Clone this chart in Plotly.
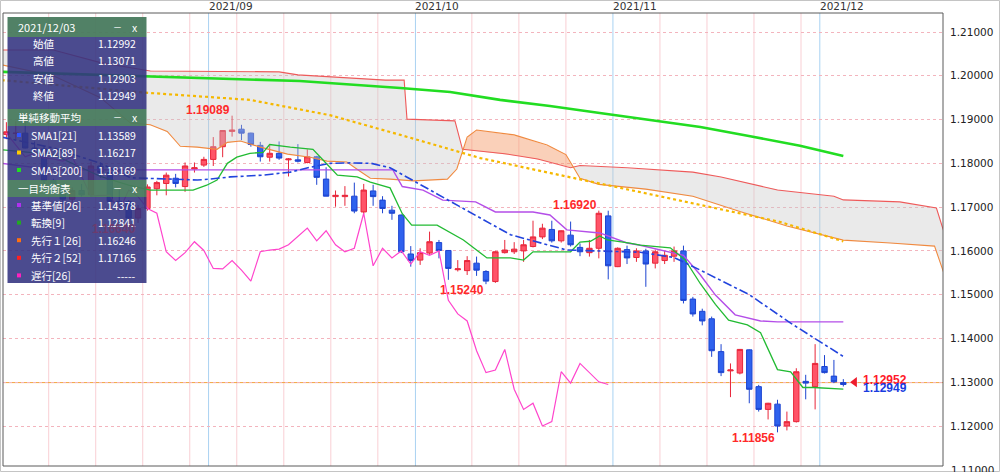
import numpy as np
import pandas as pd
import plotly.graph_objects as go

# ---------------- data ----------------
dates = [d.strftime("%Y/%m/%d") for d in pd.bdate_range("2021-08-02", "2021-12-03")]

opens = [1.1866,1.1868,1.1869,1.1835,1.1833,1.1761,1.1738,1.1718,1.1738,1.1728,
         1.1794,1.1779,1.1713,1.1713,1.1675,1.1697,1.1742,1.1754,1.1766,1.1747,
         1.1787,1.1796,1.1809,1.1838,1.1873,1.1878,1.1869,1.1841,1.1814,1.1823,
         1.1808,1.1808,1.1802,1.1815,1.1764,1.1724,1.1724,1.1725,1.1689,1.1737,
         1.1716,1.1693,1.1682,1.1593,1.1579,1.1595,1.1619,1.1601,1.1557,1.1555,
         1.1572,1.1553,1.1530,1.1596,1.1598,1.1600,1.1610,1.1632,1.1649,1.1623,
         1.1636,1.1608,1.1596,1.1606,1.1680,1.1564,1.1603,1.1585,1.1600,1.1572,
         1.1578,1.1588,1.1600,1.1490,1.1462,1.1445,1.1370,1.1326,1.1321,1.1374,
         1.1290,1.1238,1.1250,1.1200,1.1210,1.1302,1.1290,1.1336,1.1314,1.12992]
highs = [1.1894,1.1896,1.1900,1.1850,1.1839,1.1765,1.1748,1.1745,1.1753,1.1804,
         1.1802,1.1782,1.1741,1.1716,1.1705,1.1752,1.1760,1.1779,1.1776,1.1802,
         1.1802,1.1815,1.1860,1.1876,1.19089,1.1888,1.1870,1.1849,1.1840,1.1850,
         1.1812,1.1844,1.1832,1.1817,1.1791,1.1738,1.1748,1.1756,1.1753,1.1751,
         1.1725,1.1703,1.1683,1.1611,1.1606,1.1644,1.1625,1.1602,1.1579,1.1588,
         1.1587,1.1556,1.1600,1.1625,1.1620,1.1625,1.1669,1.1662,1.1669,1.1647,
         1.1667,1.1617,1.1625,1.1692,1.16918,1.1608,1.1612,1.1606,1.1605,1.1603,
         1.1600,1.1610,1.1612,1.1495,1.1468,1.1450,1.1387,1.1343,1.1376,1.1375,
         1.1294,1.1253,1.1260,1.1233,1.1332,1.1317,1.1387,1.1362,1.1351,1.13071]
lows = [1.1855,1.1854,1.1834,1.1822,1.1754,1.1735,1.1706,1.1706,1.1724,1.1724,
        1.1767,1.1712,1.1693,1.1666,1.1664,1.1692,1.1727,1.1727,1.1745,1.1735,
        1.1779,1.1792,1.1794,1.1814,1.1861,1.1853,1.1838,1.1804,1.1804,1.1808,
        1.1770,1.1802,1.1800,1.1751,1.1725,1.1701,1.1703,1.1686,1.1684,1.1703,
        1.1686,1.1671,1.1595,1.1564,1.1568,1.1591,1.1583,1.1534,1.1553,1.1545,
        1.1543,1.1524,1.1527,1.1594,1.1593,1.1575,1.1608,1.1627,1.1619,1.1619,
        1.1610,1.1588,1.1587,1.1583,1.1535,1.1563,1.1570,1.1575,1.1518,1.1560,
        1.1570,1.1575,1.1480,1.1450,1.1430,1.1358,1.1314,1.1266,1.1318,1.1252,
        1.1233,1.1215,1.11856,1.1190,1.1208,1.1261,1.1238,1.1320,1.1298,1.12903]
closes = [1.1872,1.1869,1.1835,1.1833,1.1761,1.1738,1.1718,1.1738,1.1728,1.1794,
          1.1779,1.1713,1.1713,1.1675,1.1697,1.1746,1.1756,1.1773,1.1754,1.1794,
          1.1790,1.1809,1.1838,1.1875,1.1876,1.1869,1.1843,1.1815,1.1823,1.1812,
          1.1810,1.1805,1.1815,1.1768,1.1725,1.1727,1.1727,1.1691,1.1739,1.1724,
          1.1697,1.1686,1.1598,1.1578,1.1596,1.1621,1.1601,1.1560,1.1559,1.1578,
          1.1556,1.1531,1.1598,1.1602,1.1604,1.1614,1.1632,1.1652,1.1623,1.1646,
          1.1614,1.1598,1.1606,1.1686,1.1566,1.1606,1.1584,1.1600,1.1570,1.1598,
          1.1590,1.1600,1.1487,1.1456,1.1440,1.1372,1.1322,1.1328,1.1375,1.1284,
          1.1238,1.1252,1.1200,1.1210,1.1324,1.1298,1.1343,1.1322,1.1301,1.12949]

# indicator lines (x in bar units)
sma1_x = [-0.5,5,10,13.2,20.3,21.7,23.8,27.3,30.2,32.3,34.4,36.6,38.8,40.8,46.9,53.6,59.6,67.4,71,73.8,79,83.4,89]
sma1_y = [1.1860,1.1835,1.1800,1.1767,1.1762,1.1764,1.1769,1.1773,1.1780,1.1791,1.1800,1.1801,1.1800,1.1790,
          1.1717,1.1637,1.1602,1.1597,1.1585,1.1556,1.1500,1.1435,1.13589]
sma2_x = [-0.5,15.1,25.9,34.4,41.9,50.4,58.9,67.4,73.8,82.3,89]
sma2_y = [1.1990,1.1961,1.1945,1.1910,1.1865,1.1812,1.1773,1.1735,1.1705,1.1666,1.16217]
sma3_x = [-0.5,15,31.2,41.9,47.2,52.5,57.8,63.1,68.5,73.8,79.1,84.4,89]
sma3_y = [1.2009,1.1999,1.1988,1.1972,1.1963,1.1945,1.1931,1.1915,1.1899,1.1883,1.1862,1.1840,1.18169]
tenkan_x = [-0.5,5,8,10,13,15.3,19.85,21.3,22.4,23.5,24.5,25.9,27.3,28,30.2,32.6,34.1,35.2,37.3,38.7,
            40.8,42.1,43.1,45.8,48.6,51.1,53.6,55,56,60,61,62.1,63.1,63.9,66.3,67.4,70.6,72.2,73.8,75.4,
            76.8,78.8,80.2,82,83.4,84.7,85.8,89]
tenkan_y = [1.1831,1.1820,1.1790,1.1770,1.1750,1.1739,1.1739,1.1750,1.1762,1.1800,1.1814,1.1823,1.1825,1.1843,
            1.1837,1.1832,1.1798,1.1773,1.1769,1.1757,1.1744,1.1685,1.1659,1.1659,1.1625,1.1584,1.1584,1.1579,
            1.1598,1.1598,1.1620,1.1622,1.1634,1.1625,1.1618,1.1613,1.1607,1.1579,1.1525,1.1478,1.1442,1.1431,
            1.1413,1.1329,1.1324,1.1288,1.1288,1.12841]
kijun_x = [-0.5,5,41.1,42.1,44.3,46.4,49.9,52,56,57.8,59.6,63.1,66,67.4,72,73.8,75.4,77.5,80.2,82,89]
kijun_y = [1.1800,1.1785,1.1785,1.1747,1.1739,1.1716,1.1712,1.1689,1.1689,1.1682,1.1648,1.1641,1.1618,1.1613,
           1.1590,1.1545,1.1499,1.1454,1.1440,1.14378,1.14378]
span1_x = [-0.5,5,10,13.2,15.3,17.1,18.5,20.3,22.4,23.5,24.9,27,29.9,32.3,34.1,36.2,37.6,38.7,40.8,43.3,
           46.9,47.9,49,50,54,57.5,59.5,61,63,68,73,78,83,89,94,98.7,99.6,100.5]
span1_y = [1.2025,1.2000,1.1950,1.1892,1.1888,1.1873,1.1839,1.1837,1.1832,1.1848,1.1851,1.1837,1.1821,1.1814,
           1.1805,1.1803,1.1782,1.1766,1.1764,1.1760,1.1764,1.1787,1.1860,1.1876,1.1865,1.1842,1.1820,1.1766,
           1.1752,1.1741,1.1725,1.1690,1.1657,1.16246,1.1618,1.1611,1.1555,1.1500]
span2_x = [-0.5,5,10,15.3,29,31,40.3,42.3,42.6,47.7,48.5,53,56.5,60,61,66,73,76,82,88,89,95,98.9,99.6,100.5]
span2_y = [1.2059,1.2059,1.2030,1.2011,1.2009,1.2002,1.1990,1.1990,1.1901,1.1897,1.1832,1.1822,1.1810,1.1790,
           1.1795,1.1790,1.1780,1.1769,1.1739,1.1725,1.17165,1.1712,1.1698,1.1650,1.1600]
chikou_shift = 25

y_ticks = [1.12, 1.13, 1.14, 1.15, 1.16, 1.17, 1.18, 1.19, 1.20, 1.21]
last_open, last_high, last_low, last_close = 1.12992, 1.13071, 1.12903, 1.12949
ask_price = 1.12952

panel_header = "2021/12/03"
ohlc_rows = [("始値", "1.12992"), ("高値", "1.13071"), ("安値", "1.12903"), ("終値", "1.12949")]
sma_rows = [("SMA1[21]", "1.13589", "#3355ff"), ("SMA2[89]", "1.16217", "#ffcc00"), ("SMA3[200]", "1.18169", "#22dd22")]
ichi_rows = [("基準値[26]", "1.14378", "#b030f0"), ("転換[9]", "1.12841", "#22aa22"),
             ("先行１[26]", "1.16246", "#ff7010"), ("先行２[52]", "1.17165", "#ff2020"),
             ("遅行[26]", "-----", "#ff20c0")]
peak_labels = [(24, 1.19089, "high"), (63, 1.16920, "high"), (51, 1.15240, "low"), (82, 1.11856, "low")]
hidden_label = (14, 1.16640)

# ---------------- figure ----------------
n = len(opens)
xs = list(range(n))
W, H = 1000, 472
L_, R_, T_, B_ = 3, 57, 13, 6
PW, PH = W - L_ - R_, H - T_ - B_

def px(x):
    return (x - L_) / PW

def py(y):
    return (H - B_ - y) / PH

fig = go.Figure()

# cloud fills
grid = np.linspace(-0.5, 100.5, 1011)
s1 = np.interp(grid, span1_x, span1_y)
s2 = np.interp(grid, span2_x, span2_y)
top = np.maximum(s1, s2)
fig.add_trace(go.Scatter(x=grid, y=s1, mode="lines", line=dict(width=0), hoverinfo="skip", showlegend=False))
fig.add_trace(go.Scatter(x=grid, y=top, mode="lines", line=dict(width=0), fill="tonexty",
                         fillcolor="rgba(200,200,200,0.38)", hoverinfo="skip", showlegend=False))
fig.add_trace(go.Scatter(x=grid, y=s2, mode="lines", line=dict(width=0), hoverinfo="skip", showlegend=False))
fig.add_trace(go.Scatter(x=grid, y=top, mode="lines", line=dict(width=0), fill="tonexty",
                         fillcolor="rgba(245,150,100,0.45)", hoverinfo="skip", showlegend=False))

def line(x, y, color, width=1.2, dash="solid"):
    fig.add_trace(go.Scatter(x=x, y=y, mode="lines", line=dict(color=color, width=width, dash=dash),
                             hoverinfo="skip", showlegend=False))

line(span2_x, span2_y, "#ee5a5a", 1.1)
line(span1_x, span1_y, "#f08a40", 1.1)
line(sma3_x, sma3_y, "#22dd22", 2.6)
line(sma2_x, sma2_y, "#f5b800", 2.2, "dot")
line(kijun_x, kijun_y, "#b44ee8", 1.4)
line(tenkan_x, tenkan_y, "#22bb33", 1.3)
line(sma1_x, sma1_y, "#2244dd", 1.6, "dashdot")
chik_x = [i - chikou_shift for i in range(chikou_shift, n)]
chik_y = closes[chikou_shift:]
line(chik_x, chik_y, "#ff44cc", 1.2)

fig.add_trace(go.Candlestick(
    x=xs, open=opens, high=highs, low=lows, close=closes,
    increasing=dict(line=dict(color="#e8263a", width=1), fillcolor="#ff5468"),
    decreasing=dict(line=dict(color="#1d44d0", width=1), fillcolor="#2f62ee"),
    whiskerwidth=0, showlegend=False, hoverinfo="skip"))

fig.add_trace(go.Scatter(x=[90.2], y=[ask_price + 0.0005], mode="markers",
                         marker=dict(symbol="triangle-left", size=9, color="#ee1c2c"),
                         hoverinfo="skip", showlegend=False))

shapes = []
# vertical grid lines
month_starts = [i for i in range(1, n) if dates[i][5:7] != dates[i - 1][5:7]]
for k in range(0, 90, 5):
    xv = k - 0.5
    if any(abs(xv - (m - 0.5)) < 1.5 for m in month_starts):
        continue
    shapes.append(dict(type="line", xref="x", yref="paper", x0=xv, x1=xv, y0=0, y1=1,
                       line=dict(color="#f9cfd4", width=1), layer="below"))
for m in month_starts:
    shapes.append(dict(type="line", xref="x", yref="paper", x0=m - 0.5, x1=m - 0.5, y0=0, y1=1,
                       line=dict(color="#a9d2f2", width=1), layer="below"))
# price line
shapes.append(dict(type="line", xref="paper", yref="y", x0=0, x1=1, y0=last_open, y1=last_open,
                   line=dict(color="#f2a43a", width=1), layer="below"))
# plot border
shapes.append(dict(type="rect", xref="paper", yref="paper", x0=0, x1=1, y0=0, y1=1,
                   line=dict(color="#5a5a5a", width=1), layer="above"))
# outer border
shapes.append(dict(type="rect", xref="paper", yref="paper", x0=px(0.5), x1=px(999.5), y0=py(471.5), y1=py(0.5),
                   line=dict(color="#c4c4c4", width=1), layer="above"))

# info panel
PL, PR = 7.5, 146.5
body = "rgba(50,50,128,0.88)"
head = "rgba(72,122,94,0.95)"
for (a, b, c) in [(17, 37, head), (37, 109, body), (109, 126, head), (126, 180, body), (180, 197, head), (197, 283, body)]:
    shapes.append(dict(type="rect", xref="paper", yref="paper", x0=px(PL), x1=px(PR), y0=py(b), y1=py(a),
                       fillcolor=c, line=dict(width=0), layer="above"))

ann = []
PF = "Noto Sans CJK JP"

def txt(x, y, s, anchor="left", color="white", size=10.5, fam=PF):
    ann.append(dict(xref="paper", yref="paper", x=px(x), y=py(y), text=s, showarrow=False,
                    xanchor=anchor, yanchor="middle", font=dict(family=fam, size=size, color=color)))

def sq(x, y, color):
    shapes.append(dict(type="rect", xref="paper", yref="paper", x0=px(x - 2), x1=px(x + 2), y0=py(y + 2), y1=py(y - 2),
                       fillcolor=color, line=dict(width=0), layer="above"))

txt(16, 27, panel_header, size=11)
for yy in (27, 118, 188):
    txt(117, yy, "－", "center", size=9)
    txt(135, yy, "x", "center", size=10.5)
for i, (lab, val) in enumerate(ohlc_rows):
    yy = 43 + i * 17.6
    txt(44, yy, lab, "center")
    txt(138, yy, val, "right")
txt(16, 118, "単純移動平均")
for i, (lab, val, col) in enumerate(sma_rows):
    yy = 135 + i * 17.5
    sq(19, yy, col)
    txt(29, yy, lab)
    txt(138, yy, val, "right")
txt(16, 188, "一目均衡表")
for i, (lab, val, col) in enumerate(ichi_rows):
    yy = 205 + i * 17.6
    sq(19, yy, col)
    txt(29, yy, lab)
    txt(138, yy, val, "right")

# peak labels
for (i, v, kind) in peak_labels:
    ann.append(dict(xref="x", yref="y", x=i, y=v, text="<b>%.5f</b>" % v, showarrow=False,
                    xanchor="right", yanchor="bottom" if kind == "high" else "top",
                    yshift=-3 if kind == "high" else 3,
                    font=dict(family="Liberation Sans", size=12, color="#ff2a2a")))
ann.append(dict(xref="x", yref="y", x=hidden_label[0], y=hidden_label[1], text="<b>%.5f</b>" % hidden_label[1],
                showarrow=False, xanchor="right", yanchor="top", yshift=3,
                font=dict(family="Liberation Sans", size=12, color="#6c3b6e")))
# current price labels
ann.append(dict(xref="x", yref="y", x=90.9, y=ask_price + 0.0009, text="<b>%.5f</b>" % ask_price, showarrow=False,
                xanchor="left", yanchor="middle", font=dict(family="Liberation Sans", size=12, color="#ff1a2a")))
ann.append(dict(xref="x", yref="y", x=90.9, y=last_close - 0.0009, text="<b>%.5f</b>" % last_close, showarrow=False,
                xanchor="left", yanchor="middle", font=dict(family="Liberation Sans", size=12, color="#1a3ce0")))
# month labels
for m in month_starts:
    ann.append(dict(xref="x", yref="paper", x=m - 0.5, y=py(6), text=dates[m][:7], showarrow=False,
                    xanchor="left", yanchor="middle", xshift=-2,
                    font=dict(family="DejaVu Sans", size=10.5, color="#333333")))
# partially visible bottom tick
ann.append(dict(xref="paper", yref="paper", x=px(949), y=py(470), text="1.11000", showarrow=False,
                xanchor="left", yanchor="middle", font=dict(family="DejaVu Sans", size=10.5, color="#222222")))

fig.update_layout(
    width=W, height=H, margin=dict(l=L_, r=R_, t=T_, b=B_),
    paper_bgcolor="white", plot_bgcolor="white", boxgap=0.18,
    shapes=shapes, annotations=ann, showlegend=False,
    xaxis=dict(range=[-0.36, 99.6], showgrid=False, zeroline=False, showticklabels=False,
               rangeslider=dict(visible=False), fixedrange=True),
    yaxis=dict(side="right", range=[1.11087, 1.21434], tickvals=y_ticks,
               ticktext=["%.5f" % v for v in y_ticks], showgrid=True, gridcolor="#f3b4bd", griddash="dot",
               gridwidth=1, zeroline=False, ticks="", ticklabelstandoff=6,
               tickfont=dict(family="DejaVu Sans", size=10.5, color="#222222"), fixedrange=True),
)

fig.write_html("out.html", config={"displayModeBar": False},
               post_script="document.body.style.margin='0px';document.body.style.padding='0px';")
